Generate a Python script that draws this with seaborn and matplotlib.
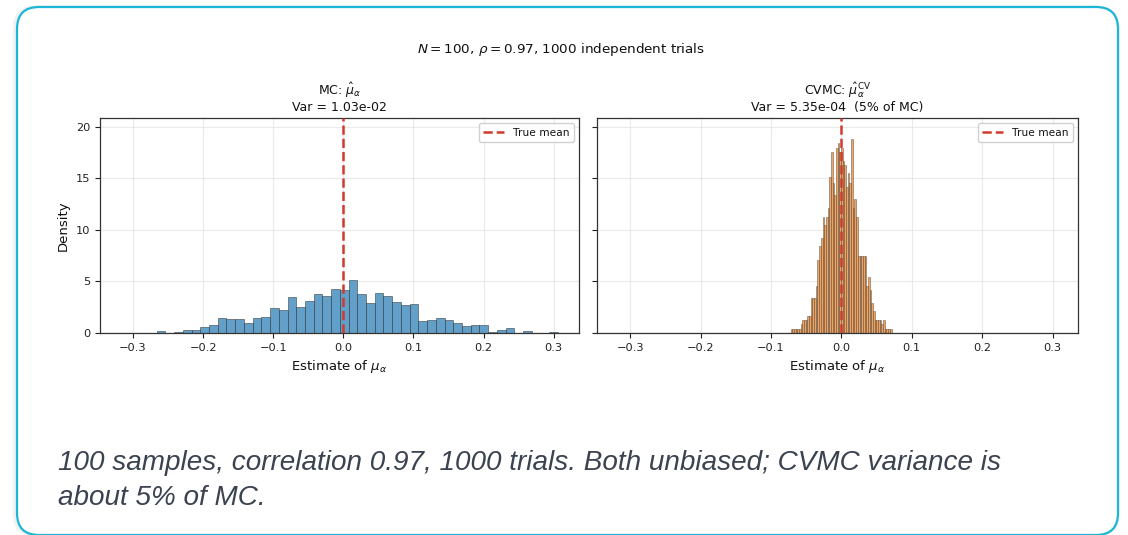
import numpy as np
import pandas as pd
import matplotlib
matplotlib.use("Agg")
import matplotlib.pyplot as plt
import seaborn as sns
from matplotlib.patches import FancyBboxPatch

# ---------------- data ----------------
mc_bin_start = -0.316
mc_bin_width = 0.01244
mc_density = [0, 0, 0, 0,
              0.23, 0, 0.1, 0.3, 0.3, 0.56, 0.82, 1.5, 1.37, 1.37,
              0.98, 1.5, 1.6, 2.42, 2.22, 3.46, 2.48, 3.07, 3.76, 3.56,
              4.25, 4.15, 5.1, 3.76, 2.9, 3.86, 3.56, 3.0, 2.68, 2.84,
              1.14, 1.31, 1.5, 1.24, 1.0, 0.65, 0.75, 0.82, 0.1, 0.26,
              0.49, 0, 0.16, 0, 0, 0.1]

cv_bin_start = -0.0722
cv_bin_width = 0.00239
cv_density = [0.42, 0.42, 0.42, 0.42, 0.42, 0.42, 0.84, 1.26, 1.26, 1.26,
              1.67, 1.67, 3.35, 3.35, 3.35, 4.6, 7.1, 8.4, 9.2, 11.3,
              10.5, 11.3, 12.1, 15.1, 17.6, 14.6, 13.4, 18.0, 18.4, 17.6,
              18.0, 16.7, 16.3, 14.2, 15.5, 14.6, 18.8, 12.1, 13.0, 11.3,
              7.5, 7.5, 7.5, 7.5, 7.5, 4.6, 5.4, 4.2, 2.9, 2.1,
              1.26, 1.26, 1.26, 1.26, 0.84, 1.26, 0.42, 0.42, 0.42, 0.42]

true_mean = 0.0
x_ticks = [-0.3, -0.2, -0.1, 0.0, 0.1, 0.2, 0.3]
y_ticks = [0, 5, 10, 15, 20]

suptitle = r"$N = 100$, $\rho = 0.97$, 1000 independent trials"
mc_title = "MC: $\\hat{\\mu}_\\alpha$\nVar = 1.03e-02"
cv_title = "CVMC: $\\hat{\\mu}_\\alpha^{\\mathrm{CV}}$\nVar = 5.35e-04  (5% of MC)"
xlabel = r"Estimate of $\mu_\alpha$"
ylabel = "Density"
caption_lines = ["100 samples, correlation 0.97, 1000 trials. Both unbiased; CVMC variance is",
                 "about 5% of MC."]


def hist_frame(start, width, dens):
    edges = start + width * np.arange(len(dens) + 1)
    centers = (edges[:-1] + edges[1:]) / 2
    return [float(e) for e in edges], pd.DataFrame({"x": centers, "w": dens})


mc_edges, mc_df = hist_frame(mc_bin_start, mc_bin_width, mc_density)
cv_edges, cv_df = hist_frame(cv_bin_start, cv_bin_width, cv_density)

# ---------------- style ----------------
sns.set_style("ticks")
plt.rcParams["font.family"] = ["DejaVu Sans"]
plt.rcParams["axes.edgecolor"] = "#333333"
plt.rcParams["xtick.color"] = "#222222"
plt.rcParams["ytick.color"] = "#222222"
plt.rcParams["text.color"] = "#111111"
plt.rcParams["axes.labelcolor"] = "#111111"

W, H = 1128, 535
fig = plt.figure(figsize=(W / 100, H / 100), dpi=100)

# background card
bg = fig.add_axes([0, 0, 1, 1], zorder=-5)
bg.set_xlim(0, W)
bg.set_ylim(H, 0)
bg.axis("off")
for off, a in [(3, 0.05), (2, 0.07)]:
    bg.add_patch(FancyBboxPatch((17 - off, 7), 1101 + off, 528,
                                boxstyle="round,pad=0,rounding_size=22",
                                fc="none", ec="#888888", lw=2.5, alpha=a))
bg.add_patch(FancyBboxPatch((17, 7), 1101, 528,
                            boxstyle="round,pad=0,rounding_size=22",
                            fc="white", ec="#1cb6d6", lw=1.6))
bg.text(58, 470, caption_lines[0], fontsize=20.1, style="italic",
        family=["Liberation Sans", "DejaVu Sans"], color="#3b4350", va="baseline")
bg.text(58, 505, caption_lines[1], fontsize=20.1, style="italic",
        family=["Liberation Sans", "DejaVu Sans"], color="#3b4350", va="baseline")

fig.text(561 / W, 1 - 49 / H, suptitle, ha="center", va="center", fontsize=9.7)

ax1 = fig.add_axes([100 / W, 1 - 333 / H, 479 / W, 215 / H])
ax2 = fig.add_axes([597 / W, 1 - 333 / H, 481 / W, 215 / H], sharey=ax1, sharex=ax1)

sns.histplot(data=mc_df, x="x", weights="w", bins=mc_edges, stat="count",
             color="#62a0ca", ax=ax1)
sns.histplot(data=cv_df, x="x", weights="w", bins=cv_edges, stat="count",
             color="#f5a45c", ax=ax2)

for ax, fc, lw in [(ax1, "#62a0ca", 0.6), (ax2, "#f2a45e", 0.45)]:
    for p in ax.patches:
        p.set_alpha(None)
        p.set_facecolor(fc)
        p.set_edgecolor((0.12, 0.12, 0.12, 0.55))
        p.set_linewidth(lw)

for ax, title in [(ax1, mc_title), (ax2, cv_title)]:
    ax.axvline(true_mean, color="#d03a2c", ls="--", lw=1.8, label="True mean", zorder=5)
    ax.set_title(title, fontsize=9, pad=5, linespacing=1.1)
    ax.set_xlabel(xlabel, fontsize=9.5)
    ax.grid(True, color="#dddddd", alpha=0.6, lw=0.8)
    ax.set_axisbelow(True)
    ax.legend(loc="upper right", fontsize=7.7, framealpha=0.9, edgecolor="#cccccc",
              handlelength=2.0, borderpad=0.4)
    ax.tick_params(labelsize=8.2, length=3.5, width=0.8)
    for s in ax.spines.values():
        s.set_visible(True)
        s.set_linewidth(0.9)

ax1.set_xlim(-0.347, 0.336)
ax1.set_ylim(0, 20.87)
ax1.set_xticks(x_ticks)
ax1.set_yticks(y_ticks)
ax1.set_ylabel(ylabel, fontsize=9.5)
ax2.set_ylabel("")
ax2.tick_params(labelleft=False)

fig.savefig("out.png", dpi=100)
